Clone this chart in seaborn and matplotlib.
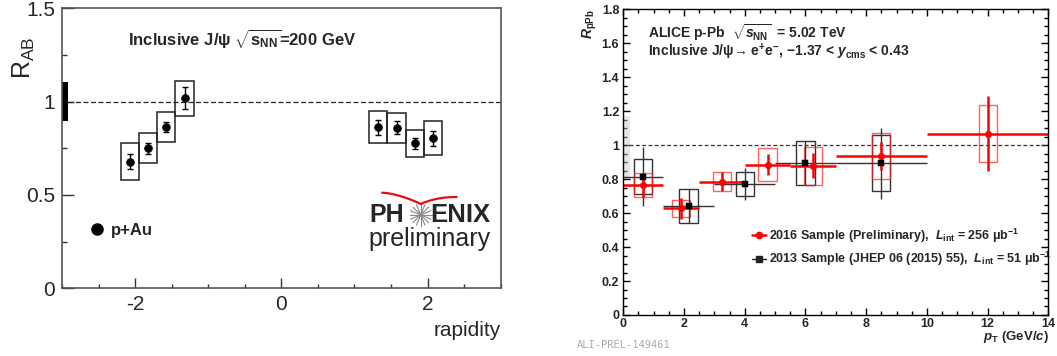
import numpy as np
import pandas as pd
import matplotlib
matplotlib.use("Agg")
import matplotlib.pyplot as plt
from matplotlib.patches import Rectangle
from matplotlib.lines import Line2D
from matplotlib.ticker import MultipleLocator
import seaborn as sns

# PHENIX p+Au inclusive J/psi, R_AB vs rapidity
phx_rap = [-2.075, -1.825, -1.575, -1.325, 1.325, 1.575, 1.825, 2.075]
phx_rab = [0.678, 0.750, 0.866, 1.018, 0.862, 0.861, 0.776, 0.803]
phx_stat = [0.041, 0.028, 0.027, 0.060, 0.040, 0.033, 0.030, 0.041]
phx_sys = [0.100, 0.080, 0.080, 0.095, 0.086, 0.080, 0.074, 0.091]
phx_bin_width = 0.25
phx_global = 0.103

# ALICE p-Pb 2016 sample (preliminary), R_pPb vs pT
new_pt = [0.65, 1.9, 3.25, 4.75, 6.25, 8.5, 12.0]
new_lo = [0.0, 1.3, 2.5, 4.0, 5.5, 7.0, 10.0]
new_hi = [1.3, 2.5, 4.0, 5.5, 7.0, 10.0, 14.0]
new_r = [0.765, 0.628, 0.785, 0.886, 0.878, 0.936, 1.068]
new_stat = [0.072, 0.062, 0.056, 0.059, 0.074, 0.083, 0.220]
new_sys = [0.072, 0.051, 0.056, 0.098, 0.112, 0.135, 0.169]

# ALICE p-Pb 2013 sample (JHEP 06 (2015) 55)
old_pt = [0.65, 2.15, 4.0, 6.0, 8.5]
old_lo = [0.0, 1.3, 3.0, 5.0, 7.0]
old_hi = [1.3, 3.0, 5.0, 7.0, 10.0]
old_r = [0.815, 0.642, 0.771, 0.895, 0.893]
old_stat = [0.175, 0.100, 0.093, 0.130, 0.210]
old_sys = [0.103, 0.100, 0.072, 0.132, 0.165]
alice_box_width = 0.6

sns.set_theme(style="ticks")
plt.rcParams["font.family"] = ["Liberation Sans", "DejaVu Sans"]
plt.rcParams["mathtext.fontset"] = "custom"
plt.rcParams["mathtext.rm"] = "Liberation Sans"
plt.rcParams["mathtext.bf"] = "Liberation Sans:bold"
plt.rcParams["mathtext.it"] = "Liberation Sans:bold:italic"

fig = plt.figure(figsize=(10.57, 3.56), dpi=100)
ax1 = fig.add_axes([0.0587, 0.1902, 0.415, 0.7865])
ax2 = fig.add_axes([0.5897, 0.1152, 0.4021, 0.8587])

# ---------------- left: PHENIX ----------------
phx = pd.DataFrame({"rap": phx_rap, "rab": phx_rab, "stat": phx_stat, "sys": phx_sys})
for _, row in phx.iterrows():
    ax1.add_patch(Rectangle((row.rap - phx_bin_width / 2, row.rab - row.sys),
                            phx_bin_width, 2 * row.sys, fill=False, ec="#222222", lw=1.1))
ax1.errorbar(phx.rap, phx.rab, yerr=phx.stat, fmt="none", ecolor="black",
             elinewidth=1, capsize=2.2, capthick=1)
sns.scatterplot(data=phx, x="rap", y="rab", ax=ax1, color="black", s=32,
                edgecolor="black", zorder=5, legend=False)

ax1.add_patch(Rectangle((-3, 1 - phx_global), 0.082, 2 * phx_global, color="black", lw=0))
ax1.axhline(1, xmin=0.014, color="#222222", ls=(0, (4, 2)), lw=0.9)

ax1.set_xlim(-3, 3)
ax1.set_ylim(0, 1.5)
ax1.set_xticks([-2, 0, 2])
ax1.set_xticklabels(["-2", "0", "2"])
ax1.xaxis.set_minor_locator(MultipleLocator(0.5))
ax1.set_yticks([0, 0.5, 1, 1.5])
ax1.set_yticklabels(["0", "0.5", "1", "1.5"])
ax1.yaxis.set_minor_locator(MultipleLocator(0.25))
ax1.tick_params(axis="x", which="major", direction="in", length=7, width=1, color="#333333",
                labelsize=15, pad=5)
ax1.tick_params(axis="x", which="minor", direction="in", length=3, width=1, color="#333333")
ax1.tick_params(axis="y", which="major", direction="in", length=8.5, width=1, color="#333333",
                labelsize=15, pad=5)
ax1.tick_params(axis="y", which="minor", direction="in", length=3.5, width=1, color="#333333")
ax1.set_xlabel("")
ax1.set_ylabel("")
for sp in ax1.spines.values():
    sp.set_visible(True)
    sp.set_color("#555555")
    sp.set_linewidth(1.2)

ax1.text(-0.087, 0.822, r"$\mathrm{R}_{\mathrm{AB}}$", transform=ax1.transAxes,
         rotation=90, ha="center", va="center", fontsize=18)
ax1.text(1.0, -0.149, "rapidity", transform=ax1.transAxes, ha="right", va="center",
         fontsize=15)
ax1.text(-2.1, 1.335, r"Inclusive J/ψ $\sqrt{\mathbf{s}_{\mathbf{NN}}}$=200 GeV",
         fontsize=12, fontweight="bold", ha="left", va="center")

leg1 = ax1.legend(handles=[Line2D([], [], marker="o", color="black", ls="none", markersize=8)],
                  labels=["p+Au"], loc="center left", bbox_to_anchor=(0.065, 0.208),
                  frameon=False, handlelength=0.8, handletextpad=0.45, borderpad=0,
                  borderaxespad=0, prop={"size": 12, "weight": "bold"})

# PHENIX logo
ax1.text(1.21, 0.393, "PH", fontsize=18, fontweight="bold", ha="left", va="center")
ax1.text(2.03, 0.393, "ENIX", fontsize=18.5, fontweight="bold", ha="left", va="center")
ax1.text(1.19, 0.262, "preliminary", fontsize=18, ha="left", va="center")
for a in np.linspace(0, np.pi, 8, endpoint=False):
    dx, dy = 11 / 73.3 * np.cos(a), 11 / 186.7 * np.sin(a)
    ax1.plot([1.906 - dx, 1.906 + dx], [0.393 - dy, 0.393 + dy], color="#888888", lw=0.8)
t = np.linspace(0, 1, 30)
ax1.plot(1.378 + t * (1.906 - 1.378), 0.512 - 0.060 * t ** 1.6, color="#e01010", lw=1.6)
ax1.plot(1.906 + t * (2.397 - 1.906), 0.452 + 0.037 * (1 - (1 - t) ** 2.2),
         color="#e01010", lw=1.6)

# ---------------- right: ALICE ----------------
old = pd.DataFrame({"pt": old_pt, "lo": old_lo, "hi": old_hi, "r": old_r,
                    "stat": old_stat, "sys": old_sys})
new = pd.DataFrame({"pt": new_pt, "lo": new_lo, "hi": new_hi, "r": new_r,
                    "stat": new_stat, "sys": new_sys})

ax2.add_patch(Rectangle((0, 0.80), 0.22, 0.37, fc="#c8c8c8", ec="none", alpha=0.45))
ax2.axhline(1, color="#333333", ls=(0, (3, 2)), lw=0.9)

for _, row in old.iterrows():
    ax2.add_patch(Rectangle((row.pt - alice_box_width / 2, row.r - row.sys),
                            alice_box_width, 2 * row.sys, fill=False, ec="#333333", lw=1.0))
ax2.errorbar(old.pt, old.r, xerr=[old.pt - old.lo, old.hi - old.pt], yerr=old.stat,
             fmt="none", ecolor="#333333", elinewidth=1.0, capsize=0)
sns.scatterplot(data=old, x="pt", y="r", ax=ax2, marker="s", color="black", s=20,
                edgecolor="black", zorder=6, legend=False)

for _, row in new.iterrows():
    ax2.add_patch(Rectangle((row.pt - alice_box_width / 2, row.r - row.sys),
                            alice_box_width, 2 * row.sys, fill=False, ec="#ff2020",
                            lw=1.0, alpha=0.7))
ax2.errorbar(new.pt, new.r, xerr=[new.pt - new.lo, new.hi - new.pt], yerr=new.stat,
             fmt="none", ecolor="#ff0000", elinewidth=1.8, capsize=0)
sns.scatterplot(data=new, x="pt", y="r", ax=ax2, marker="o", color="#ff0000", s=22,
                edgecolor="#ff0000", zorder=7, legend=False)

ax2.set_xlim(0, 14)
ax2.set_ylim(0, 1.8)
ax2.set_xticks(np.arange(0, 15, 2))
ax2.set_xticklabels([f"{v:g}" for v in np.arange(0, 15, 2)])
ax2.xaxis.set_minor_locator(MultipleLocator(0.5))
yt = np.round(np.arange(0, 1.81, 0.2), 1)
ax2.set_yticks(yt)
ax2.set_yticklabels([f"{v:g}" for v in yt])
ax2.yaxis.set_minor_locator(MultipleLocator(0.05))
ax2.tick_params(axis="both", which="major", direction="in", length=5, width=1,
                color="black", labelsize=9, top=True, right=True)
ax2.tick_params(axis="both", which="minor", direction="in", length=2.8, width=1,
                color="black", top=True, right=True)
ax2.tick_params(axis="x", which="major", pad=2)
ax2.tick_params(axis="y", which="major", pad=3)
for lab in ax2.get_xticklabels() + ax2.get_yticklabels():
    lab.set_fontweight("bold")
ax2.set_xlabel("")
ax2.set_ylabel("")
for sp in ax2.spines.values():
    sp.set_visible(True)
    sp.set_color("black")
    sp.set_linewidth(1.0)

ax2.text(-0.078, 1.0, r"$R_{\mathbf{pPb}}$", transform=ax2.transAxes, rotation=90,
         ha="center", va="top", fontsize=10)
ax2.text(1.0, -0.072, r"$p_{\mathbf{T}}$ (GeV/$c$)", transform=ax2.transAxes,
         ha="right", va="center", fontsize=9.5, fontweight="bold")
ax2.text(0.058, 0.922, r"ALICE p-Pb  $\sqrt{s_{\mathbf{NN}}}$  = 5.02 TeV",
         transform=ax2.transAxes, ha="left", va="center", fontsize=10, fontweight="bold")
ax2.text(0.058, 0.862,
         r"Inclusive J/ψ→ e$^{\mathbf{+}}$e$^{\mathbf{-}}$, −1.37 < $y_{\mathbf{cms}}$ < 0.43",
         transform=ax2.transAxes, ha="left", va="center", fontsize=10, fontweight="bold")

handles = [Line2D([], [], color="#ff0000", marker="o", ms=4.5, lw=1.8),
           Line2D([], [], color="#222222", marker="s", ms=4, lw=1.0)]
labels = [r"2016 Sample (Preliminary),  $L_{\mathbf{int}}$ = 256 μb$^{\mathbf{-1}}$",
          r"2013 Sample (JHEP 06 (2015) 55),  $L_{\mathbf{int}}$ = 51 μb$^{\mathbf{-1}}$"]
ax2.legend(handles=handles, labels=labels, loc="upper left", bbox_to_anchor=(0.303, 0.29),
           frameon=False, handlelength=1.1, handletextpad=0.25, borderpad=0,
           borderaxespad=0, labelspacing=0.45, prop={"size": 9, "weight": "bold"})

fig.text(0.546, 0.031, "ALI-PREL-149461", color="#aaaaaa", fontsize=7.5,
         family="DejaVu Sans Mono", ha="left", va="center")

fig.savefig("out.png", dpi=100)
